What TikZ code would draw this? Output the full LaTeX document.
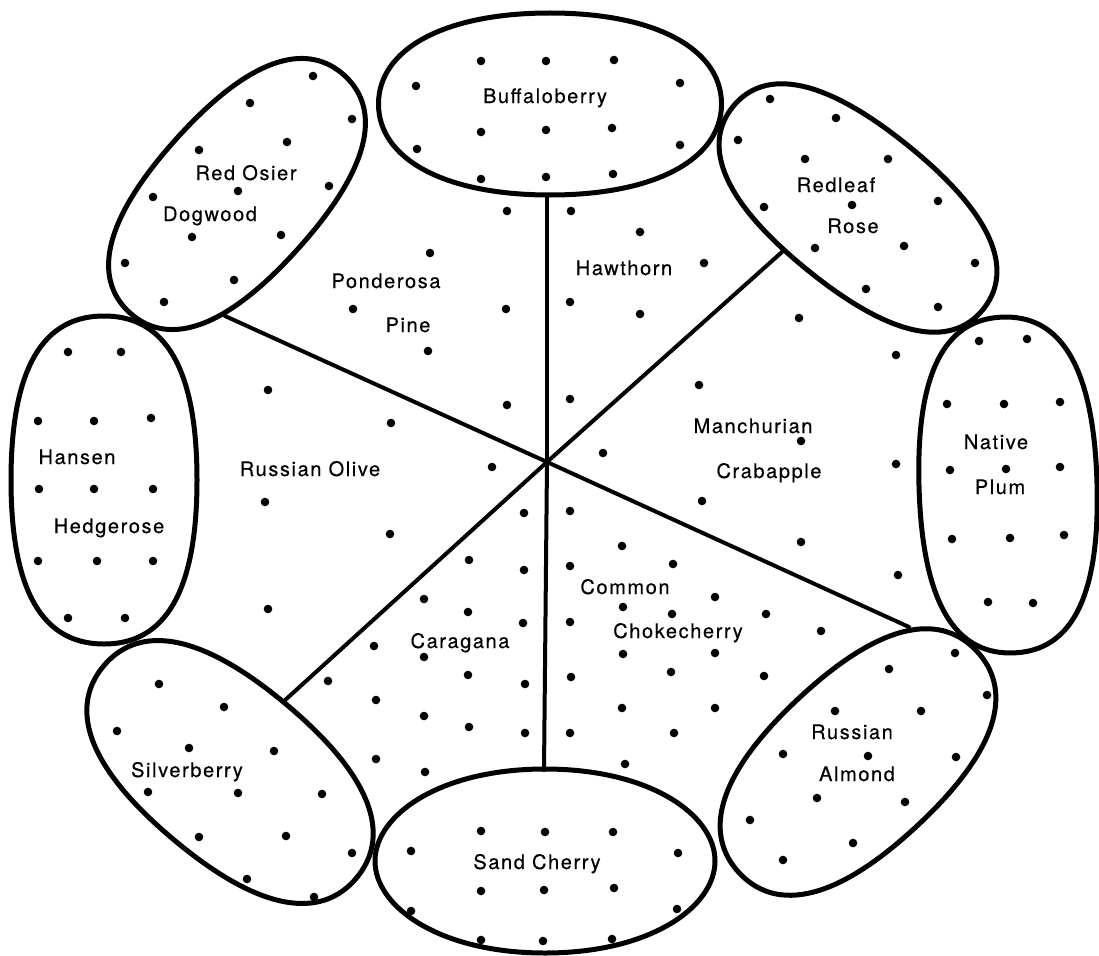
\documentclass[tikz,border=0pt]{standalone}
\usepackage{fontspec}
\setmainfont{TeX Gyre Heros}[LetterSpace=8,FakeBold=0.4]
\usepackage{tikz}
\usetikzlibrary{calc}

\begin{document}
\begin{tikzpicture}[x=1pt,y=-1pt,
    bedline/.style={line width=5pt,line join=round},
    divline/.style={line width=4pt,line cap=round},
    lbl/.style={font=\fontsize{20}{24}\selectfont,inner sep=0pt,anchor=base}]
    \useasboundingbox (0,0) rectangle (1099,955);
    % shrub beds round the edge: name/x/y/angle/half length/half width/end/side
    \foreach \n/\x/\y/\r/\a/\b/\p/\q in {buffbed/550/104/0/171.5/91/0.6/0.62,
        osierbed/237/194/48/160/82/0.55/0.75,
        redleafbed/858/208/-39/161/80/0.55/0.75, plumbed/1008/485/91.7/168/89/0.55/0.78,
        almondbed/858/762/43/162.5/87/0.55/0.75, sandbed/545/861/0/170/92/0.5/0.62,
        silverbed/230/772/-40/165/88/0.55/0.75, hansenbed/104/480/90/164/93/0.55/0.78}{
        \draw[bedline,shift={(\x,\y)},rotate=\r]
            (\a,0) .. controls (\a,{\p*\b}) and ({\q*\a},\b) .. (0,\b)
            .. controls ({-\q*\a},\b) and (-\a,{\p*\b}) .. (-\a,0)
            .. controls (-\a,{-\p*\b}) and ({-\q*\a},-\b) .. (0,-\b)
            .. controls ({\q*\a},-\b) and (\a,{-\p*\b}) .. cycle;
        \coordinate (\n) at (\x,\y);
    }
    % dividing lines of the centre
    \coordinate (hub) at (547,462);
    \coordinate (buffend) at (547,196);
    \coordinate (redleafend) at (782,252);
    \coordinate (almondend) at (909,627);
    \coordinate (sandend) at (544,770);
    \coordinate (silverend) at (283,702);
    \coordinate (osierend) at (225,316);
    \foreach \e in {buffend,redleafend,almondend,sandend,silverend,osierend}
        \draw[divline] (hub) -- (\e);
    % plants
    \foreach \x/\y in {481/61,546/61,614/60,416/86,680/83,481/132,546/130,612/128,
        417/149,680/145,481/179,546/177,613/174,
        313/76,250/103,352/119,287/142,199/150,329/186,153/197,238/191,192/237,
        281/235,125/263,234/280,164/302,
        770/99,836/118,738/140,805/159,888/159,764/207,852/205,938/201,815/248,
        904/246,975/263,866/289,938/307,
        979/341,1027/339,947/404,1004/404,1060/402,950/470,1006/469,1060/467,
        952/539,1010/538,1064/535,988/602,1033/603,
        955/653,889/669,987/695,835/711,921/711,783/754,868/756,956/757,817/798,
        905/802,750/820,853/843,783/860,
        481/831,545/832,613/832,411/851,678/853,481/891,544/890,614/888,411/911,
        677/909,481/940,543/941,612/939,
        159/684,224/707,117/731,189/748,274/751,148/792,238/793,322/794,199/837,
        286/836,352/853,247/879,314/897,
        68/352,121/352,38/421,94/421,151/418,39/489,94/489,153/489,38/561,97/561,
        153/561,68/618,125/618}
        \fill (\x,\y) circle (4.3pt);
    \foreach \x/\y in {507/211,430/253,353/309,506/309,428/351,507/405,
        571/211,640/232,704/263,570/302,640/314,570/399,
        799/318,896/355,699/385,801/441,603/453,896/464,702/501,801/542,898/575,
        268/390,391/423,492/467,265/502,390/534,268/609,
        524/513,469/560,524/570,424/599,468/612,523/623,374/646,424/657,468/675,
        525/684,328/681,376/700,424/716,469/727,525/733,376/759,425/772,
        570/511,622/546,570/566,673/564,623/607,672/614,715/597,766/614,821/631,
        570/622,623/654,715/653,571/677,671/672,764/676,622/708,715/708,570/733,
        674/733,625/764}
        \fill (\x,\y) circle (4.3pt);
    % names
    \node[lbl] (buffaloberry) at (545,103) {Buffaloberry};
    \node[lbl] (redosier) at (246,180) {Red Osier};
    \node[lbl] (dogwood) at (210,221) {Dogwood};
    \node[lbl] (redleaf) at (836,192) {Redleaf};
    \node[lbl] (rose) at (853,233) {Rose};
    \node[lbl] (native) at (996,449) {Native};
    \node[lbl] (plum) at (1000,494) {Plum};
    \node[lbl] (russian) at (852,739) {Russian};
    \node[lbl] (almond) at (857,781) {Almond};
    \node[lbl] (sandcherry) at (537,869) {Sand Cherry};
    \node[lbl] (silverberry) at (187,777) {Silverberry};
    \node[lbl] (hansen) at (77,464) {Hansen};
    \node[lbl] (hedgerose) at (109,533) {Hedgerose};
    \node[lbl] (ponderosa) at (386,288) {Ponderosa};
    \node[lbl] (pine) at (408,332) {Pine};
    \node[lbl] (hawthorn) at (624,275) {Hawthorn};
    \node[lbl] (manchurian) at (753,433) {Manchurian};
    \node[lbl] (crabapple) at (769,478) {Crabapple};
    \node[lbl] (russianolive) at (310,476) {Russian Olive};
    \node[lbl] (caragana) at (460,648) {Caragana};
    \node[lbl] (common) at (625,594) {Common};
    \node[lbl] (chokecherry) at (678,638) {Chokecherry};
\end{tikzpicture}
\end{document}
